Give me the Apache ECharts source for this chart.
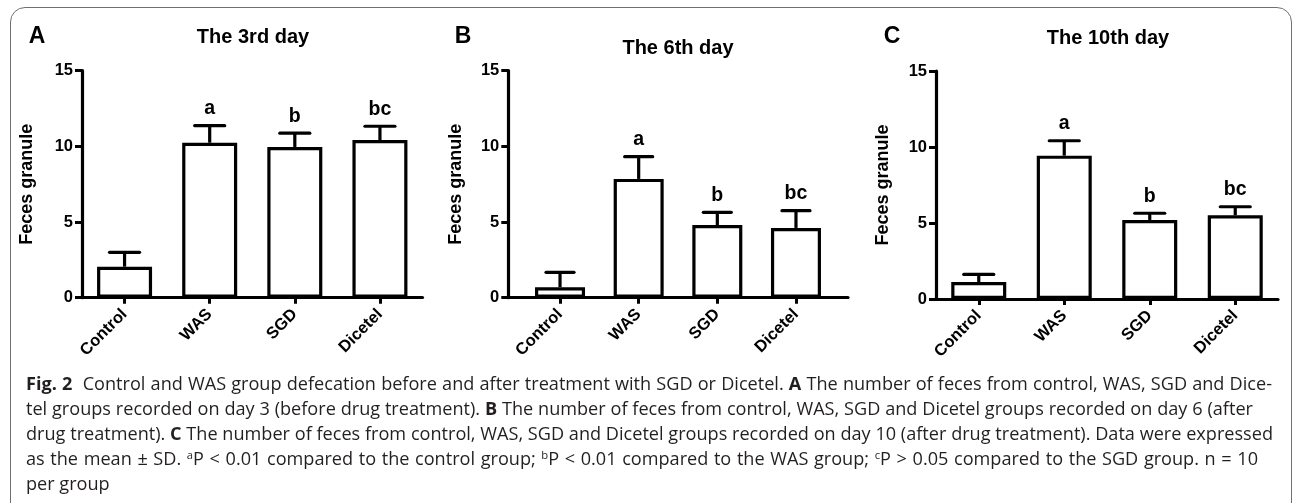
<!DOCTYPE html>
<html>
<head>
<meta charset="utf-8">
<script src="https://cdn.jsdelivr.net/npm/echarts@6/dist/echarts.min.js"></script>
<style>
  html,body{margin:0;padding:0;background:#fff;overflow:hidden;}
  #wrap{position:relative;width:1293px;height:503px;overflow:hidden;background:#fff;}
  #chart{position:absolute;left:0;top:0;width:1293px;height:503px;}
  #frame{position:absolute;left:9.5px;top:7px;width:1282px;height:512px;border:1.5px solid #707070;border-radius:15px;box-sizing:border-box;pointer-events:none;}
  .cap{position:absolute;left:26px;white-space:nowrap;font-family:"Open Sans",sans-serif;color:#231f20;line-height:20px;height:20px;}
  .cap b{font-weight:700;}
  .cap sup{font-size:0.62em;line-height:0;vertical-align:0.55em;}
  .just{text-align:justify;text-align-last:justify;}
</style>
</head>
<body>
<div id="wrap">
  <div id="chart"></div>
  <div id="frame"></div>
  <div id="caption"></div>
</div>
<script>
// ---- data ----
const categories = ['Control', 'WAS', 'SGD', 'Dicetel'];
const letters = ['', 'a', 'b', 'bc'];
const panelLetters = ['A', 'B', 'C'];
const panelTitles = ['The 3rd day', 'The 6th day', 'The 10th day'];
const yAxisName = 'Feces granule';
const yMin = 0, yMax = 15, yStep = 5;

const meanDay3 = [2.05, 10.24, 9.96, 10.42];
const sdDay3   = [0.95, 1.13, 0.91, 0.91];
const meanDay6 = [0.69, 7.85, 4.80, 4.61];
const sdDay6   = [0.99, 1.47, 0.84, 1.14];
const meanDay10 = [1.12, 9.43, 5.20, 5.51];
const sdDay10   = [0.50, 0.98, 0.44, 0.56];

const captionLines = [
  '<b>Fig. 2</b>&nbsp; Control and WAS group defecation before and after treatment with SGD or Dicetel. <b>A</b> The number of feces from control, WAS, SGD and Dice-',
  'tel groups recorded on day 3 (before drug treatment). <b>B</b> The number of feces from control, WAS, SGD and Dicetel groups recorded on day 6 (after',
  'drug treatment). <b>C</b> The number of feces from control, WAS, SGD and Dicetel groups recorded on day 10 (after drug treatment). Data were expressed',
  'as the mean \u00b1 SD. <sup>a</sup>P &lt; 0.01 compared to the control group; <sup>b</sup>P &lt; 0.01 compared to the WAS group; <sup>c</sup>P &gt; 0.05 compared to the SGD group. n = 10',
  'per group'
];

// ---- layout / styles ----
const FONT = '"Liberation Sans", Arial, Helvetica, sans-serif';
const panels = [
  { mean: meanDay3,  sd: sdDay3,  grid: {left: 82,    top: 70.7, width: 340.5, height: 227}, yOffset: 0,    barW: 55, capW: 30, nameGap: 46 },
  { mean: meanDay6,  sd: sdDay6,  grid: {left: 520.7, top: 70.7, width: 314.6, height: 227}, yOffset: 12.4, barW: 50, capW: 28, nameGap: 43 },
  { mean: meanDay10, sd: sdDay10, grid: {left: 936,   top: 71,   width: 342,   height: 228}, yOffset: 0,    barW: 55, capW: 30, nameGap: 44 }
];
const headerPos = [
  { letter: [37, 37],  title: [253, 37] },
  { letter: [463, 37], title: [678, 48] },
  { letter: [892, 37], title: [1108, 38] }
];

function errRender(capW) {
  return function (params, api) {
    const i = api.value(0), m = api.value(1), s = api.value(2);
    const p0 = api.coord([i, m]);
    const p1 = api.coord([i, m + s]);
    return {
      type: 'group',
      children: [
        { type: 'line', shape: {x1: p0[0], y1: p0[1], x2: p1[0], y2: p1[1]}, style: {stroke: '#000', lineWidth: 3.2} },
        { type: 'line', shape: {x1: p1[0] - capW / 2, y1: p1[1], x2: p1[0] + capW / 2, y2: p1[1]}, style: {stroke: '#000', lineWidth: 3.2, lineCap: 'round'} },
        { type: 'text', x: p1[0], y: p1[1] - 7, style: {text: letters[params.dataIndex], align: 'center', verticalAlign: 'bottom', fontSize: 19.5, fontWeight: 'bold', fontFamily: FONT, fill: '#000'} }
      ]
    };
  };
}

const grids = [], xAxes = [], yAxes = [], series = [], graphics = [];
panels.forEach((p, k) => {
  const gi = grids.length;
  grids.push(Object.assign({containLabel: false}, p.grid));
  xAxes.push({
    type: 'category', gridIndex: gi, data: categories,
    axisLine: {show: true, lineStyle: {color: '#000', width: 3.2}},
    axisTick: {show: true, alignWithLabel: true, length: 6, lineStyle: {color: '#000', width: 3}},
    axisLabel: {interval: 0, rotate: 45, margin: 14, color: '#000', fontSize: 16.5, fontWeight: 'bold', fontFamily: FONT},
    splitLine: {show: false}
  });
  yAxes.push({
    type: 'value', gridIndex: gi, min: yMin, max: yMax, interval: yStep, offset: p.yOffset,
    name: yAxisName, nameLocation: 'middle', nameRotate: 90, nameGap: p.nameGap,
    nameTextStyle: {color: '#000', fontSize: 18, fontWeight: 'bold', fontFamily: FONT},
    axisLine: {show: true, lineStyle: {color: '#000', width: 3.2}},
    axisTick: {show: true, length: 7, lineStyle: {color: '#000', width: 3}},
    axisLabel: {margin: 9, color: '#000', fontSize: 16.5, fontWeight: 'bold', fontFamily: FONT},
    splitLine: {show: false}
  });
  series.push({
    type: 'bar', xAxisIndex: gi, yAxisIndex: gi, data: p.mean, barWidth: p.barW,
    itemStyle: {color: '#fff', borderColor: '#000', borderWidth: 3.2}, z: 3, silent: true
  });
  series.push({
    type: 'custom', xAxisIndex: gi, yAxisIndex: gi,
    data: p.mean.map((m, i) => [i, m, p.sd[i]]),
    renderItem: errRender(p.capW), z: 4, silent: true
  });
  if (k === 1) {
    // full-length x axis line for panel B (bars are inset from the y axis)
    const gl = grids.length;
    grids.push({left: 508.3, top: 70.7, width: 339.7, height: 227});
    xAxes.push({type: 'value', gridIndex: gl, min: 0, max: 1, axisLine: {show: true, lineStyle: {color: '#000', width: 3.2}}, axisTick: {show: false}, axisLabel: {show: false}, splitLine: {show: false}});
    yAxes.push({type: 'value', gridIndex: gl, min: yMin, max: yMax, show: false});
  }
  graphics.push({type: 'text', x: headerPos[k].letter[0], y: headerPos[k].letter[1], style: {text: panelLetters[k], align: 'center', verticalAlign: 'middle', fontSize: 23, fontWeight: 'bold', fontFamily: FONT, fill: '#000'}});
  graphics.push({type: 'text', x: headerPos[k].title[0], y: headerPos[k].title[1], style: {text: panelTitles[k], align: 'center', verticalAlign: 'middle', fontSize: 20, fontWeight: 'bold', fontFamily: FONT, fill: '#000'}});
});

const chart = echarts.init(document.getElementById('chart'), null, {renderer: 'canvas'});
chart.setOption({
  backgroundColor: '#fff',
  animation: false,
  grid: grids, xAxis: xAxes, yAxis: yAxes, series: series, graphic: graphics
});

// ---- caption ----
const capCenters = [383, 408, 433, 458, 483];
const capEnds = [1272, 1253, 1273, 1258, null];
const cap = document.getElementById('caption');
// pick a font size so that line 3 naturally spans its width
const probe = document.createElement('div');
probe.className = 'cap';
probe.style.fontSize = '16px';
probe.style.visibility = 'hidden';
probe.innerHTML = captionLines[2];
cap.appendChild(probe);
const natural = probe.getBoundingClientRect().width;
cap.removeChild(probe);
const fs = Math.max(14, Math.min(19, 16 * (capEnds[2] - 26) / natural));
captionLines.forEach((t, i) => {
  const d = document.createElement('div');
  d.className = 'cap' + (capEnds[i] ? ' just' : '');
  d.style.fontSize = fs + 'px';
  d.style.top = (capCenters[i] - 10) + 'px';
  if (capEnds[i]) { d.style.width = (capEnds[i] - 26) + 'px'; d.style.whiteSpace = 'normal'; d.style.overflow = 'visible'; }
  d.innerHTML = t;
  cap.appendChild(d);
});
</script>
</body>
</html>
